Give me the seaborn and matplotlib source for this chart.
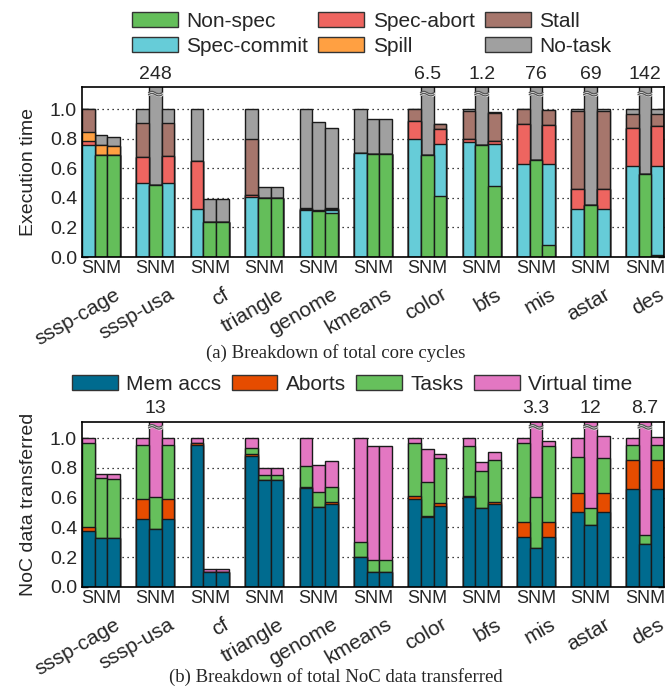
import numpy as np
import pandas as pd
import seaborn as sns
import matplotlib.pyplot as plt
from matplotlib.patches import Patch

benches = ["sssp-cage", "sssp-usa", "cf", "triangle", "genome", "kmeans",
           "color", "bfs", "mis", "astar", "des"]
configs = ["S", "N", "M"]

# (a) core cycles breakdown, one [S, N, M] triple per benchmark
non_spec = [[0, .69, .69], [0, .49, 0], [0, .237, .237], [0, .40, .40], [0, .31, .30],
            [0, .70, .70], [0, .693, .413], [0, .756, .479], [0, .655, .081],
            [0, .35, 0], [0, .564, .013]]
spec_commit = [[.76, 0, 0], [.50, 0, .50], [.323, 0, 0], [.406, 0, 0], [.316, 0, .016],
               [.702, 0, 0], [.797, 0, .35], [.779, 0, .284], [.628, 0, .547],
               [.323, 0, .323], [.616, 0, .601]]
spec_abort = [[.025, 0, 0], [.177, 0, .18], [.327, 0, 0], [.012, 0, 0], [.012, 0, .008],
              [0, 0, 0], [.122, 0, .102], [.021, 0, .02], [.27, 0, .266],
              [.14, 0, .14], [.26, 0, .269]]
spill = [[.06, .068, .06], [0, 0, 0], [0, 0, 0], [0, 0, 0], [0, 0, 0], [0, 0, 0],
         [0, 0, 0], [0, 0, 0], [0, 0, 0], [0, 0, 0], [0, 0, 0]]
stall = [[.155, 0, 0], [.23, 0, .225], [0, 0, 0], [.38, 0, 0], [.005, .005, .008],
         [0, 0, 0], [.081, 0, .038], [.189, 0, .194], [.102, 0, .099],
         [.526, 0, .526], [.09, 0, .083]]
no_task = [[0, .068, .06], [.093, 247.51, .095], [.35, .153, .153], [.20, .074, .074],
           [.667, .595, .542], [.298, .232, .232], [0, 5.807, 0], [.011, .444, .003],
           [0, 75.345, 0], [.011, 68.65, .011], [.034, 141.436, .034]]

# (b) NoC data breakdown
mem_accs = [[.375, .328, .328], [.458, .386, .458], [.951, .10, .10], [.882, .721, .721],
            [.665, .536, .56], [.20, .10, .10], [.592, .469, .542], [.603, .527, .554],
            [.335, .259, .335], [.502, .413, .502], [.661, .286, .661]]
aborts = [[.025, 0, 0], [.136, .005, .136], [.016, 0, 0], [.013, 0, 0], [.009, 0, .009],
          [0, 0, 0], [.022, .005, .02], [.011, 0, .015], [.10, 0, .10],
          [.127, 0, .127], [.194, 0, .194]]
tasks = [[.567, .404, .40], [.361, .214, .361], [0, 0, 0], [.038, .029, .029],
         [.136, .102, .103], [.104, .079, .079], [.353, .229, .303], [.335, .25, .281],
         [.532, .346, .514], [.242, .114, .237], [.10, .06, .10]]
virtual_time = [[.033, .029, .033], [.045, 12.395, .045], [.033, .018, .018],
                [.067, .049, .049], [.19, .183, .172], [.696, .77, .77],
                [.033, .223, .031], [.051, .062, .054], [.033, 2.695, .033],
                [.129, 11.473, .15], [.045, 8.354, .049]]

top_parts = [("Non-spec", non_spec, "#64BE5A"), ("Spec-commit", spec_commit, "#66CCD8"),
             ("Spec-abort", spec_abort, "#EE6560"), ("Spill", spill, "#FFA042"),
             ("Stall", stall, "#A6766C"), ("No-task", no_task, "#A0A0A0")]
bot_parts = [("Mem accs", mem_accs, "#006B8F"), ("Aborts", aborts, "#E64C00"),
             ("Tasks", tasks, "#66C05C"), ("Virtual time", virtual_time, "#E377C2")]

sns.set_style("ticks")
plt.rcParams["font.family"] = ["Liberation Sans", "DejaVu Sans"]

fig = plt.figure(figsize=(6.72, 6.90), dpi=100)
ax_top = fig.add_axes([0.122, 0.6275, 0.866, 0.2464])
ax_bot = fig.add_axes([0.122, 0.1493, 0.866, 0.2396])

WIDTH = 0.7


def stacked(ax, parts, ymax, brk, ylabel):
    rows = []
    for i, b in enumerate(benches):
        for j, c in enumerate(configs):
            row = {"bench": b, "cfg": c}
            cum = 0.0
            for name, vals, _ in parts:
                cum += vals[i][j]
                row[name] = cum
            rows.append(row)
    df = pd.DataFrame(rows)
    ax.set_axisbelow(True)
    ax.yaxis.grid(True, color="black", linestyle=(0, (1, 3)), linewidth=0.9)
    # draw cumulative heights from the top part down so lower parts overlay
    for name, _, color in reversed(parts):
        sns.barplot(data=df, x="bench", y=name, hue="cfg", hue_order=configs,
                    palette=[color] * 3, width=WIDTH, dodge=True, errorbar=None,
                    saturation=1, edgecolor="#1a1a1a", linewidth=1.0,
                    legend=False, ax=ax)
    ax.set_xlim(-0.35, len(benches) - 0.65)
    ax.set_ylim(0, ymax)
    ax.set_yticks(np.arange(0, 1.01, 0.2))
    ax.set_yticklabels([f"{v:.1f}" for v in np.arange(0, 1.01, 0.2)], fontsize=14)
    ax.set_ylabel(ylabel, fontsize=14, labelpad=9)
    ax.set_xlabel("")
    ax.set_xticks(range(len(benches)))
    ax.set_xticklabels(["SNM"] * len(benches), fontsize=13)
    ax.tick_params(axis="x", length=0, pad=2)
    ax.tick_params(axis="y", direction="in", length=4, right=True, width=1)
    for s in ax.spines.values():
        s.set_visible(True)
        s.set_linewidth(1.2)
        s.set_color("black")
    for i, b in enumerate(benches):
        ax.annotate(b, xy=(i + 0.24, 0), xycoords=("data", "axes fraction"),
                    xytext=(0, -20), textcoords="offset points", rotation=30,
                    rotation_mode="anchor", ha="right", va="top", fontsize=15)
        total = sum(p[1][i][1] for p in parts)
        if total > ymax:
            lab = f"{total:.0f}" if total >= 10 else f"{total:.1f}"
            ax.annotate(lab, xy=(i, 1.0), xycoords=("data", "axes fraction"),
                        xytext=(0, 3), textcoords="offset points",
                        ha="center", va="bottom", fontsize=14)
            w = WIDTH / 3
            xs = np.linspace(i - w / 2 - 0.01, i + w / 2 + 0.01, 40)
            wave = 0.008 * np.sin((xs - xs[0]) / (xs[-1] - xs[0]) * 2 * np.pi)
            ax.fill_between(xs, brk - 0.007 + wave, brk + 0.007 + wave,
                            color="white", zorder=5)
            ax.plot(xs, brk - 0.007 + wave, color="#555555", lw=1.0, zorder=6)
            ax.plot(xs, brk + 0.007 + wave, color="#555555", lw=1.0, zorder=6)


stacked(ax_top, top_parts, 1.15, 1.105, "Execution time")
stacked(ax_bot, bot_parts, 1.11, 1.075, "NoC data transferred")

h_top = [Patch(facecolor=c, edgecolor="#333333", label=n) for n, _, c in top_parts]
fig.legend(handles=h_top, ncol=3, loc="center", bbox_to_anchor=(0.553, 0.951),
           frameon=False, fontsize=15, handlelength=2.2, handleheight=0.7,
           handletextpad=0.4, columnspacing=0.5, labelspacing=0.3, borderpad=0)
h_bot = [Patch(facecolor=c, edgecolor="#333333", label=n) for n, _, c in bot_parts]
fig.legend(handles=h_bot, ncol=4, loc="center", bbox_to_anchor=(0.524, 0.443),
           frameon=False, fontsize=15, handlelength=2.2, handleheight=0.7,
           handletextpad=0.4, columnspacing=0.5, borderpad=0)

fig.text(0.5, 0.489, "(a) Breakdown of total core cycles", ha="center", va="center",
         fontsize=13.5, family=["Liberation Serif", "DejaVu Serif"])
fig.text(0.5, 0.019, "(b) Breakdown of total NoC data transferred", ha="center",
         va="center", fontsize=13.5, family=["Liberation Serif", "DejaVu Serif"])

fig.savefig("out.png", dpi=100)
